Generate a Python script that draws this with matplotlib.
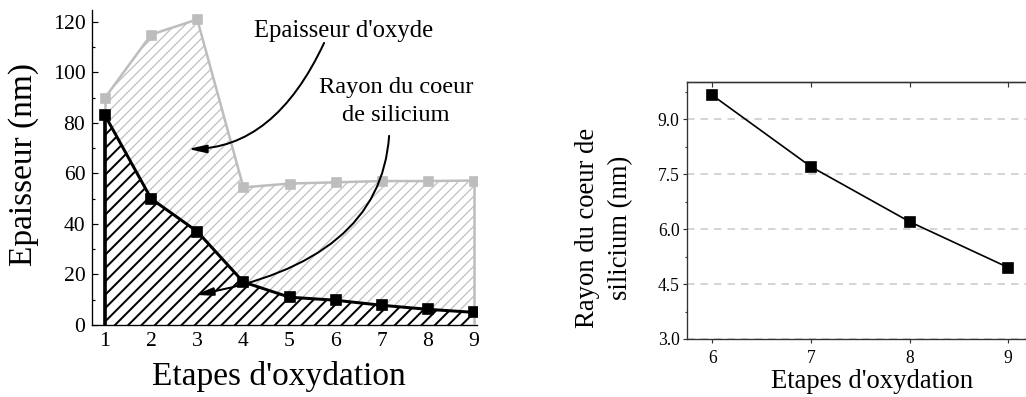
import matplotlib
matplotlib.use("Agg")
import matplotlib.pyplot as plt
from matplotlib.ticker import MultipleLocator, FormatStrFormatter

plt.rcParams['font.family'] = ['Liberation Serif', 'DejaVu Serif']

# left panel: thickness per oxidation step
etapes = [1, 2, 3, 4, 5, 6, 7, 8, 9]
epaisseur_totale = [90, 115, 121, 54.5, 56, 56.5, 57, 57, 57.2]
rayon_coeur = [83, 50, 37, 17, 11, 9.8, 7.8, 6.2, 5.0]

# right panel: zoom on the last steps
etapes_fin = [6, 7, 8, 9]
rayon_fin = [9.65, 7.7, 6.2, 4.95]

GRIS = '#bdbdbd'
GRIS_HACH = '#c2c2c2'

DPI = 120
fig = plt.figure(figsize=(1026 / DPI, 397 / DPI), dpi=DPI)

# ---------------- left panel
ax = fig.add_axes([0.0897, 0.1814, 0.3752, 0.7935])

with plt.rc_context({'hatch.linewidth': 0.8}):
    f1 = ax.fill_between(etapes, 0, epaisseur_totale, facecolor='white',
                         edgecolor=GRIS_HACH, hatch='////', linewidth=0, zorder=1)
with plt.rc_context({'hatch.linewidth': 1.2}):
    f2 = ax.fill_between(etapes, 0, rayon_coeur, facecolor='white',
                         edgecolor='black', hatch='///', linewidth=0, zorder=2)
if hasattr(f1, 'set_hatch_linewidth'):
    f1.set_hatch_linewidth(0.8)
    f2.set_hatch_linewidth(1.2)

ax.vlines(etapes[-1], 0, epaisseur_totale[-1], color=GRIS, lw=1.5, zorder=3)
ax.vlines(etapes[0], rayon_coeur[0], epaisseur_totale[0], color=GRIS, lw=1.5, zorder=3)
ax.plot(etapes, epaisseur_totale, '-s', color=GRIS, lw=1.5, ms=5.4,
        mfc=GRIS, mec=GRIS, zorder=4)
ax.vlines(etapes[0], 0, rayon_coeur[0], color='black', lw=2.2, zorder=5)
ax.plot(etapes, rayon_coeur, '-s', color='black', lw=1.8, ms=6.4, zorder=6)

ax.set_xlim(0.718, 9.065)
ax.set_ylim(0, 124.75)
ax.set_xticks(etapes)
ax.yaxis.set_major_locator(MultipleLocator(20))
ax.yaxis.set_minor_locator(MultipleLocator(10))
ax.tick_params(axis='both', which='both', direction='in', width=0.7, labelsize=13)
ax.tick_params(axis='y', which='major', length=3.6, pad=4)
ax.tick_params(axis='y', which='minor', length=2)
ax.tick_params(axis='x', which='major', length=3, pad=4)
for s in ['top', 'right']:
    ax.spines[s].set_visible(False)
for s in ['left', 'bottom']:
    ax.spines[s].set_linewidth(0.8)

ax.set_xlabel("Etapes d'oxydation", fontsize=20, va='center')
ax.xaxis.set_label_coords(0.486, -0.162)
ax.set_ylabel("Epaisseur (nm)", fontsize=20, va='center')
ax.yaxis.set_label_coords(-0.177, 0.508)

fleche = dict(arrowstyle='-|>,head_length=0.9,head_width=0.2', color='black',
              lw=1.2, mutation_scale=10, shrinkA=0, shrinkB=0)
ax.annotate('', xy=(2.80, 69.7), xytext=(5.75, 111.7),
            arrowprops=dict(fleche, connectionstyle='angle3,angleA=65,angleB=0'),
            zorder=8)
ax.annotate('', xy=(2.95, 11.9), xytext=(7.16, 74.9),
            arrowprops=dict(fleche, connectionstyle='angle3,angleA=86,angleB=10'),
            zorder=8)
ax.text(6.18, 116.4, "Epaisseur d'oxyde", fontsize=14.8, ha='center', va='center')
ax.text(7.31, 88.6, "Rayon du coeur\nde silicium", fontsize=14.6, ha='center',
        va='center', multialignment='center', linespacing=1.45)

# ---------------- right panel
bx = fig.add_axes([0.6696, 0.1461, 0.3304, 0.6481])
bx.plot(etapes_fin, rayon_fin, '-s', color='black', lw=1.0, ms=6, zorder=3)
bx.set_xlim(5.743, 9.18)
bx.set_ylim(3, 10.02)
bx.set_xticks(etapes_fin)
bx.yaxis.set_major_locator(MultipleLocator(1.5))
bx.yaxis.set_minor_locator(MultipleLocator(0.75))
bx.yaxis.set_major_formatter(FormatStrFormatter('%.1f'))
bx.grid(axis='y', which='major', color='#c8c8c8', ls=(0, (5, 4)), lw=0.9)
bx.tick_params(axis='both', which='both', direction='out', width=0.7,
               labelsize=10.5, color='#333333')
bx.tick_params(axis='y', which='major', length=2.4, pad=2)
bx.tick_params(axis='y', which='minor', length=1.5)
bx.tick_params(axis='x', which='major', length=2.6, pad=4)
bx.spines['right'].set_visible(False)
for s in ['top', 'left', 'bottom']:
    bx.spines[s].set_linewidth(0.8)
    bx.spines[s].set_color('#333333')

haut = bx.secondary_xaxis('top')
haut.set_xticks(etapes_fin)
haut.tick_params(axis='x', direction='in', length=3, width=0.7, labeltop=False,
                 color='#333333')
haut.spines['top'].set_linewidth(0.8)
haut.spines['top'].set_color('#333333')

bx.set_xlabel("Etapes d'oxydation", fontsize=16, va='center')
bx.xaxis.set_label_coords(0.546, -0.167)
bx.set_ylabel("Rayon du coeur de\nsilicium (nm)", fontsize=16, va='center',
              linespacing=1.4)
bx.yaxis.set_label_coords(-0.245, 0.432)

fig.savefig('out.png', dpi=DPI)
